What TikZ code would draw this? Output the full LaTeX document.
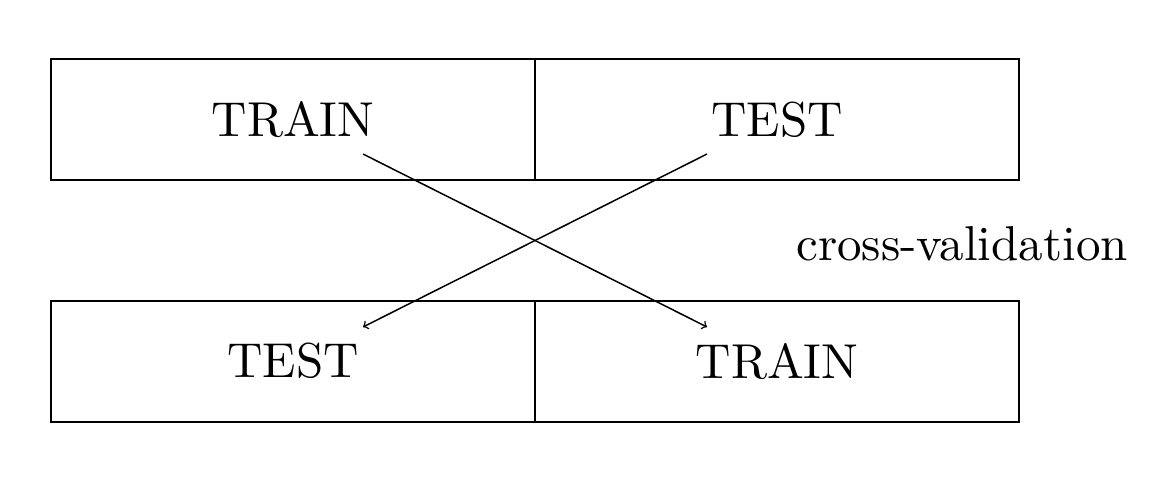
\documentclass[tikz,border=0pt]{standalone}
\usepackage{fontspec}
\setmainfont{lmroman10-regular}[Extension=.otf]
\begin{document}
\begin{tikzpicture}[x=0.5pt,y=-0.5pt,
  half/.style={draw,line width=1pt,minimum width=242pt,minimum height=60.5pt,inner sep=0pt,
    font=\fontsize{24.5}{29}\selectfont},
  cross/.style={->,line width=0.75pt},
  lbl/.style={inner sep=0pt,font=\fontsize{24.5}{29}\selectfont}]
\useasboundingbox (0,0) rectangle (1156,478);
\node[half] (trainA) at (293,119.5) {TRAIN};
\node[half] (testA) at (777,119.5) {TEST};
\node[half] (testB) at (293,361) {TEST};
\node[half] (trainB) at (777,361) {TRAIN};
\node[lbl,anchor=base] (cv) at (962,260) {cross-validation};
\coordinate (s1) at (363,154);
\coordinate (e1) at (707,327);
\coordinate (s2) at (707,154);
\coordinate (e2) at (363,327);
\draw[cross] (s1) -- (e1);
\draw[cross] (s2) -- (e2);
\end{tikzpicture}
\end{document}
